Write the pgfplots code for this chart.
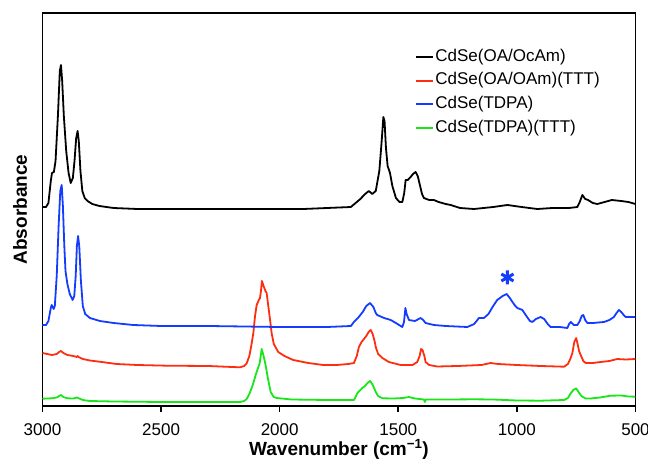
\documentclass[border=0pt]{standalone}
\usepackage{fontspec}
\setmainfont{Liberation Sans}
\usepackage{pgfplots}
\pgfplotsset{compat=1.18}
\definecolor{cblack}{RGB}{0,0,0}
\definecolor{cred}{RGB}{255,45,15}
\definecolor{cblue}{RGB}{20,60,255}
\definecolor{cgreen}{RGB}{25,230,25}
\begin{document}
\begin{tikzpicture}
\path[use as bounding box] (0,0) rectangle (648bp,463bp);
\begin{axis}[
  at={(42.5bp,57bp)}, anchor=south west,
  scale only axis, width=593bp, height=393bp,
  x dir=reverse, xmin=500, xmax=3000, ymin=0, ymax=393,
  xtick={500,1000,1500,2000,2500,3000},
  ytick=\empty,
  xtick pos=bottom,
  tick align=outside,
  major tick length=6bp,
  axis line style={line width=1.6bp},
  every tick/.style={line width=1.6bp, black},
  /pgf/number format/assume math mode=true,
  /pgf/number format/1000 sep={},
  ticklabel style={font=\fontsize{17bp}{20bp}\selectfont},
  xticklabel style={yshift=-8bp},
  xlabel={\textbf{Wavenumber (cm\textsuperscript{−1})}},
  ylabel={\textbf{Absorbance}},
  xlabel style={at={(axis description cs:0.5,-0.127)}, anchor=base, font=\fontsize{19bp}{22bp}\selectfont},
  ylabel style={at={(axis description cs:-0.038,0.5)}, anchor=center, rotate=0, font=\fontsize{19bp}{22bp}\selectfont},
  legend cell align=left,
  legend image code/.code={\draw[#1, line width=2bp] (0bp,0bp) -- (17bp,0bp);},
  legend style={at={(0.628,0.912)}, anchor=north west, draw=none, fill=none,
    inner sep=0pt, outer sep=0pt, row sep=5.3bp,
    font=\fontsize{17bp}{20bp}\selectfont,
    nodes={inner sep=1.5bp, text height=12bp, text depth=3.5bp}},
  every axis plot/.append style={line width=1.8bp, line join=round},
]
% black: CdSe(OA/OcAm)
\addplot[cblack] coordinates {
(3000,199)(2985,199)(2975,203)(2965,225)(2960,233)(2952,234)(2945,245)(2935,290)(2927,335)(2922,341)(2917,325)(2910,290)(2900,255)(2890,233)(2881,223)(2872,228)(2865,245)(2858,268)(2852,275)(2847,265)(2840,235)(2832,215)(2822,208)(2810,205)(2790,202)(2760,200)(2700,198)(2600,197)(2400,197)(2200,197)(2000,197)(1900,197)(1800,198)(1700,199)(1680,203)(1660,207)(1640,212)(1624,215)(1610,212)(1595,215)(1580,235)(1570,265)(1563,289)(1558,285)(1552,258)(1545,240)(1535,233)(1525,220)(1510,208)(1495,204)(1483,204)(1475,213)(1469,226)(1460,226)(1448,229)(1438,232)(1427,234)(1418,230)(1410,222)(1400,212)(1392,208)(1370,206)(1350,206)(1330,204)(1300,202)(1279,201)(1240,198)(1181,197)(1100,199)(1040,201)(980,199)(914,197)(850,198)(780,198)(745,199)(735,204)(724,211)(712,207)(700,206)(680,203)(661,202)(630,204)(600,206)(560,205)(530,204)(500,202)
};
\addlegendentry{CdSe(OA/OcAm)}
% red: CdSe(OA/OAm)(TTT)
\addplot[cred] coordinates {
(3000,53)(2980,52)(2960,51)(2940,52)(2930,54)(2922,55)(2912,53)(2895,51)(2870,50)(2855,49)(2852,50)(2848,49)(2830,47)(2800,45.5)(2750,44)(2688,42)(2600,41)(2476,40.3)(2300,40)(2200,39)(2167,38.7)(2150,40)(2139,42.7)(2128,50)(2120,60)(2111,73)(2104,90)(2097,101)(2088,106)(2083,108)(2079,115)(2075,125)(2068,120)(2060,115)(2055,113)(2048,100)(2040,85)(2034,73)(2025,62)(2006,54)(1980,50)(1943,46)(1880,43)(1816,41)(1760,41)(1710,42)(1687,43)(1675,50)(1666,59)(1655,64)(1648,66)(1635,70)(1625,74)(1616,76)(1608,72)(1600,65)(1595,59)(1585,52)(1567,48)(1540,44)(1490,41)(1440,41)(1420,44)(1410,50)(1404,57)(1398,56)(1390,50)(1385,44)(1370,41)(1336,39.5)(1250,40)(1150,41)(1110,43)(1080,42)(1000,41)(900,40)(801,39.3)(785,42)(775,47)(766,53)(758,64)(750,68)(744,62)(738,55)(731,51)(720,45)(710,43)(680,43)(647,44)(610,45)(577,47)(540,46.5)(500,47)
};
\addlegendentry{CdSe(OA/OAm)(TTT)}
% blue: CdSe(TDPA)
\addplot[cblue] coordinates {
(3000,81)(2985,81)(2975,85)(2965,98)(2961,101)(2953,97)(2948,100)(2940,130)(2932,180)(2925,215)(2919,221)(2914,200)(2908,160)(2903,135)(2895,122)(2885,112)(2873,106)(2866,110)(2860,130)(2855,160)(2850,170)(2845,160)(2838,125)(2830,100)(2820,92)(2800,88)(2758,85)(2700,83)(2617,81)(2500,80)(2300,80)(2000,79)(1800,79)(1700,80)(1687,84)(1670,88)(1650,94)(1635,100)(1619,103)(1605,99)(1595,93)(1589,91)(1560,88)(1532,86)(1510,83)(1490,80)(1483,79)(1476,84)(1470,98)(1465,92)(1455,86)(1430,85)(1406,88)(1395,86)(1385,83)(1350,81)(1300,80)(1209,79)(1180,82)(1160,88)(1139,88)(1120,92)(1100,100)(1083,106)(1060,110)(1043,112)(1030,108)(1010,101)(998,98)(977,96)(960,90)(945,85)(935,84)(920,87)(900,89)(885,87)(870,82)(858,79)(820,79)(787,78)(780,82)(773,84)(760,81)(745,81)(735,85)(727,90)(720,91)(712,86)(703,83)(680,83)(633,84)(610,86)(591,89)(580,93)(570,96)(560,94)(550,91)(541,89)(500,89)
};
\addlegendentry{CdSe(TDPA)}
% green: CdSe(TDPA)(TTT)
\addplot[cgreen] coordinates {
(3000,7.3)(2980,7.5)(2960,7.7)(2940,8.5)(2930,10)(2922,11)(2912,9)(2895,7.7)(2870,7.5)(2855,8.5)(2850,8)(2830,6)(2800,5)(2700,4.5)(2500,4)(2300,4)(2167,4)(2150,5)(2139,7)(2128,12)(2118,18)(2111,23)(2100,32)(2093,37)(2085,42)(2080,50)(2076,57)(2070,52)(2063,45)(2058,39)(2050,28)(2038,14)(2025,9)(2013,8)(1950,6.5)(1800,6)(1687,6)(1680,9)(1673,12.7)(1660,16)(1652,18)(1640,20)(1630,23)(1619,25)(1610,22)(1600,17)(1595,14)(1585,10)(1567,7.7)(1520,7.5)(1480,8)(1455,9)(1430,7.5)(1392,6.5)(1388,4)(1384,6.5)(1300,6.5)(1181,6.7)(1100,6.5)(1000,5.5)(900,5.3)(801,6)(785,8)(773,12.7)(762,16)(750,17.7)(740,14)(730,10.5)(724,9.3)(710,7.5)(690,7.5)(650,8.5)(605,10.3)(560,10.5)(530,9.5)(500,9.3)
};
\addlegendentry{CdSe(TDPA)(TTT)}
% asterisk annotation
\addplot[forget plot, only marks, mark=asterisk, mark size=7bp, cblue, line width=3bp] coordinates {(1040,128.5)};
\end{axis}
\end{tikzpicture}
\end{document}
